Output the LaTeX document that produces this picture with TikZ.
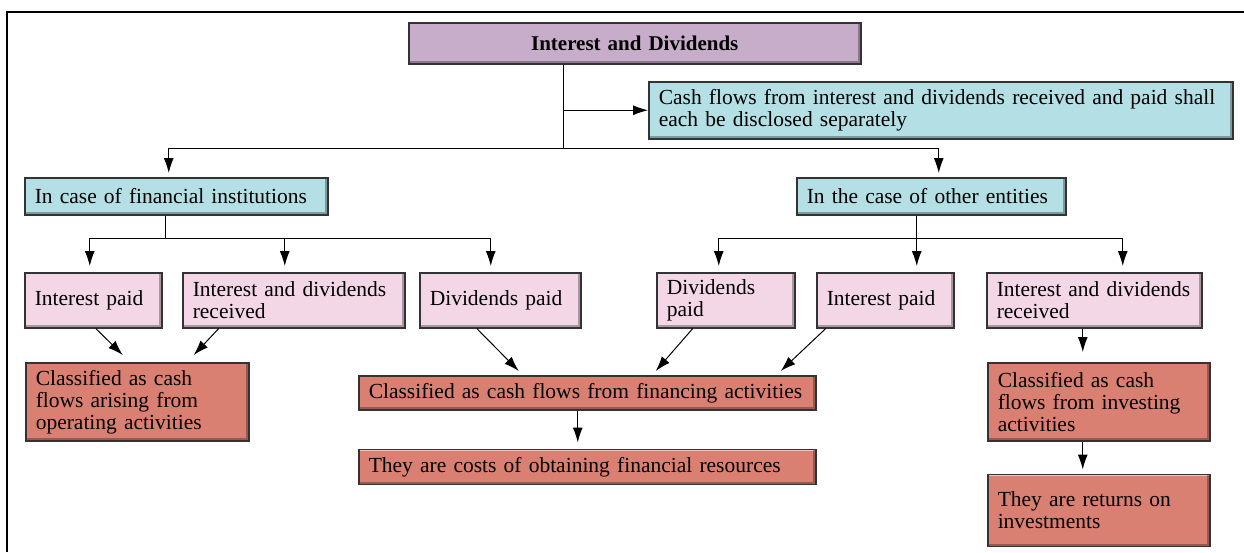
\documentclass[tikz,border=0pt]{standalone}
\usepackage{fontspec}
\setmainfont{Liberation Serif}
\usetikzlibrary{arrows.meta,positioning}
\definecolor{mauve}{HTML}{C8ADCB}
\definecolor{aqua}{HTML}{B3DFE5}
\definecolor{blush}{HTML}{F3D7E7}
\definecolor{salmon}{HTML}{DA8072}
\hyphenpenalty=10000

\begin{document}
\begin{tikzpicture}[x=1pt,y=-1pt,>={Latex[length=15pt,width=10pt]},
  every node/.style={draw=black!80,line width=1.5pt,anchor=north west,align=left,inner xsep=10pt,inner ysep=2pt,font=\fontsize{21.5}{22}\selectfont,bevel},
  bevel/.style={path picture={
    \draw[white,opacity=.55,line width=3pt] (path picture bounding box.south west) |- (path picture bounding box.north east);
    \draw[black,opacity=.3,line width=5pt] (path picture bounding box.south west) -| (path picture bounding box.north east);}},
  head/.style={fill=mauve,align=center,font=\fontsize{21}{21}\selectfont\bfseries},
  case/.style={fill=aqua,minimum height=37pt},
  item/.style={fill=blush,minimum height=55pt},
  result/.style={fill=salmon},
  link/.style={line width=1pt}]
\useasboundingbox (0,0) rectangle (1244,552);
\draw[line width=2pt] (7,552) -- (7,12) -- (1244,12);
% top level
\node[head,text width=432pt,minimum height=41pt] (head) at (408,22) {Interest and Dividends};
\node[case,text width=564pt,minimum height=57pt] (cash) at (648,81) {Cash flows from interest and dividends received and paid shall\\each be disclosed separately};
\node[case,text width=283pt] (inst) at (24,177) {In case of financial institutions};
\node[case,text width=249pt] (other) at (796,177) {In the case of other entities};
% items
\node[item,text width=117pt] (ipA) at (24,272) {Interest paid};
\node[item,text width=202pt] (idrA) at (182,272) {Interest and dividends\\received};
\node[item,text width=141pt] (dpA) at (419,272) {Dividends paid};
\node[item,text width=118pt] (dpB) at (656,272) {Dividends\\paid};
\node[item,text width=117pt] (ipB) at (816,272) {Interest paid};
\node[item,text width=195pt] (idrB) at (986,272) {Interest and dividends\\received};
% results
\node[result,text width=203pt,minimum height=78pt] (oper) at (25,362) {Classified as cash\\flows arising from\\operating activities};
\node[result,text width=437pt,minimum height=34pt] (fina) at (358,375) {Classified as cash flows from financing activities};
\node[result,text width=437pt,minimum height=35pt,below=38pt of fina] (cost) {They are costs of obtaining financial resources};
\node[result,text width=202pt,minimum height=78pt] (inve) at (987,362) {Classified as cash\\flows from investing\\activities};
\node[result,text width=202pt,minimum height=72pt,below=32pt of inve] (retu) {They are returns on\\investments};
% connectors
\coordinate (hub) at ([xshift=-71pt,yshift=-84pt]head.south);
\coordinate (ib) at ([xshift=-10.5pt,yshift=-23pt]inst.south);
\coordinate (ob) at ([xshift=-14.5pt,yshift=-23pt]other.south);
\draw[link] (head.south -| hub) -- (hub); \draw[link,->] (hub |- cash.west) -- (cash.west);
\draw[link,->,shorten >=4pt] (hub) -| ([xshift=-7.5pt]inst.north); \draw[link,->,shorten >=4pt] (hub) -| ([xshift=7.5pt]other.north);
\draw[link] (inst.south -| ib) -- (ib); \draw[link] (other.south -| ob) -- (ob);
\draw[link,->,shorten >=6pt] (ib) -| ([xshift=-3.5pt]ipA.north); \draw[link,->,shorten >=6pt] (ib) -| ([xshift=-9pt]idrA.north); \draw[link,->,shorten >=6pt] (ib) -| ([xshift=-9.5pt]dpA.north);
\draw[link,->,shorten >=6pt] (ob) -| ([xshift=-7pt]dpB.north); \draw[link,->,shorten >=6pt] (ob) -| ([xshift=31.5pt]ipB.north); \draw[link,->,shorten >=6pt] (ob) -| ([xshift=28.5pt]idrB.north);
\draw[link,->] ([xshift=2.5pt]ipA.south) -- ([xshift=-14.5pt,yshift=7pt]oper.north); \draw[link,->] ([xshift=-75pt]idrA.south) -- ([xshift=56.5pt,yshift=7pt]oper.north);
\draw[link,->] ([xshift=-23.5pt]dpA.south) -- ([xshift=-68.5pt,yshift=4pt]fina.north); \draw[link,->] ([xshift=-33pt]dpB.south) -- ([xshift=68.5pt,yshift=4pt]fina.north); \draw[link,->] ([xshift=-59.5pt]ipB.south) -- ([xshift=193.5pt,yshift=4pt]fina.north);
\draw[link,->] ([xshift=-9.5pt]fina.south) -- ([xshift=-9.5pt,yshift=6pt]cost.north);
\draw[link,->] ([xshift=-11.5pt]idrB.south) -- ([xshift=-16pt,yshift=10pt]inve.north); \draw[link,->] ([xshift=-16pt]inve.south) -- ([xshift=-16pt,yshift=4pt]retu.north);
\end{tikzpicture}
\end{document}
